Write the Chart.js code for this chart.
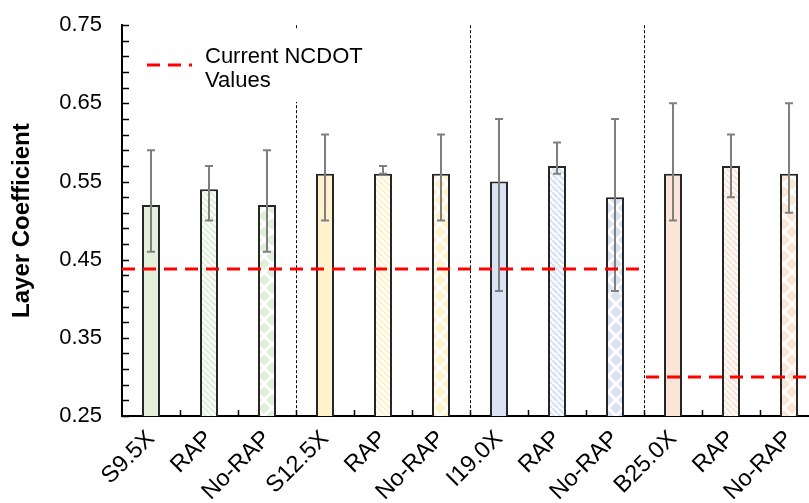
<!DOCTYPE html>
<html>
<head>
<meta charset="utf-8">
<script src="https://cdn.jsdelivr.net/npm/chart.js@4.4.1/dist/chart.umd.min.js"></script>
<style>
  html, body { margin: 0; padding: 0; background: #fff; overflow: hidden; }
  #wrap { width: 830px; height: 503px; }
</style>
</head>
<body>
<div id="wrap"><canvas id="theChart"></canvas></div>
<script>
// chart data
const categories = ["S9.5X", "RAP", "No-RAP", "S12.5X", "RAP", "No-RAP", "I19.0X", "RAP", "No-RAP", "B25.0X", "RAP", "No-RAP"];
const coefficients = [0.52, 0.54, 0.52, 0.56, 0.56, 0.56, 0.55, 0.57, 0.53, 0.56, 0.57, 0.56];
const errorLow = [0.46, 0.50, 0.46, 0.50, 0.56, 0.50, 0.41, 0.56, 0.41, 0.50, 0.53, 0.51];
const errorHigh = [0.59, 0.57, 0.59, 0.61, 0.57, 0.61, 0.63, 0.60, 0.63, 0.65, 0.61, 0.65];
const ncdotValues = [0.438, 0.30]; // surface/intermediate mixes, base mix
const yTickValues = [0.25, 0.35, 0.45, 0.55, 0.65, 0.75];

const groupColors = ["#E2EFDA", "#FFF2CC", "#DAE3F3", "#FBE5D6"];

Chart.defaults.font.family = "'Liberation Sans', Arial, sans-serif";
Chart.defaults.color = "#000";

function makeStripes(color) {
    const c = document.createElement("canvas");
    c.width = 6; c.height = 6;
    const g = c.getContext("2d");
    g.fillStyle = "#fff";
    g.fillRect(0, 0, 6, 6);
    g.strokeStyle = color;
    g.lineWidth = 2.6;
    for (let k = -6; k <= 6; k += 6) {
        g.beginPath();
        g.moveTo(k, 0);
        g.lineTo(k + 6, 6);
        g.stroke();
    }
    return g.createPattern(c, "repeat");
}

function makeDiamonds(color) {
    const c = document.createElement("canvas");
    c.width = 16; c.height = 16;
    const g = c.getContext("2d");
    g.fillStyle = "#fff";
    g.fillRect(0, 0, 16, 16);
    g.fillStyle = color;
    const centers = [[8, 8], [0, 0], [16, 0], [0, 16], [16, 16]];
    centers.forEach(([x, y]) => {
        g.beginPath();
        g.moveTo(x, y - 6);
        g.lineTo(x + 6, y);
        g.lineTo(x, y + 6);
        g.lineTo(x - 6, y);
        g.closePath();
        g.fill();
    });
    return g.createPattern(c, "repeat");
}

const barFills = categories.map((c, i) => {
    const color = groupColors[Math.floor(i / 3)];
    if (i % 3 === 0) return color;
    if (i % 3 === 1) return makeStripes(color);
    return makeDiamonds(color);
});

// extras: inner ticks, error bars, dividers, reference lines, legend
const extrasPlugin = {
    id: "extras",
    afterDatasetsDraw(chart) {
        const ctx = chart.ctx;
        const area = chart.chartArea;
        const x = chart.scales.x;
        const y = chart.scales.y;
        const step = x.getPixelForValue(1) - x.getPixelForValue(0);

        ctx.save();
        // error bars
        ctx.strokeStyle = "#7F7F7F";
        ctx.lineWidth = 2;
        for (let i = 0; i < categories.length; i++) {
            const cx = x.getPixelForValue(i);
            const lo = y.getPixelForValue(errorLow[i]);
            const hi = y.getPixelForValue(errorHigh[i]);
            ctx.beginPath();
            ctx.moveTo(cx, lo); ctx.lineTo(cx, hi);
            ctx.moveTo(cx - 4, lo); ctx.lineTo(cx + 4, lo);
            ctx.moveTo(cx - 4, hi); ctx.lineTo(cx + 4, hi);
            ctx.stroke();
        }

        // group dividers
        ctx.strokeStyle = "#000";
        ctx.lineWidth = 1;
        ctx.setLineDash([3, 2]);
        [2, 5, 8].forEach((i) => {
            const bx = Math.round(x.getPixelForValue(i) + step / 2) + 0.5;
            ctx.beginPath();
            ctx.moveTo(bx, area.top);
            ctx.lineTo(bx, area.bottom);
            ctx.stroke();
        });
        ctx.setLineDash([]);

        // inner tick marks
        ctx.strokeStyle = "#000";
        ctx.lineWidth = 1.5;
        for (let v = 0.25; v <= 0.7501; v += 0.02) {
            const py = Math.round(y.getPixelForValue(v)) + 0.5;
            ctx.beginPath();
            ctx.moveTo(area.left, py);
            ctx.lineTo(area.left + 7, py);
            ctx.stroke();
        }
        for (let i = 0; i < categories.length - 1; i++) {
            const px = Math.round(x.getPixelForValue(i) + step / 2) + 0.5;
            ctx.beginPath();
            ctx.moveTo(px, area.bottom);
            ctx.lineTo(px, area.bottom - 6);
            ctx.stroke();
        }

        // NCDOT reference lines
        ctx.strokeStyle = "#FF0000";
        ctx.lineWidth = 3;
        ctx.setLineDash([13, 8]);
        const split = x.getPixelForValue(8) + step / 2;
        let ry = y.getPixelForValue(ncdotValues[0]);
        ctx.beginPath();
        ctx.moveTo(area.left, ry);
        ctx.lineTo(split - 2, ry);
        ctx.stroke();
        ry = y.getPixelForValue(ncdotValues[1]);
        ctx.beginPath();
        ctx.moveTo(split + 2, ry);
        ctx.lineTo(area.right, ry);
        ctx.stroke();

        // legend
        ctx.setLineDash([]);
        ctx.fillStyle = "#fff";
        ctx.fillRect(135, 30, 235, 72);
        ctx.strokeStyle = "#FF0000";
        ctx.setLineDash([13, 8]);
        ctx.beginPath();
        ctx.moveTo(147, 65);
        ctx.lineTo(192, 65);
        ctx.stroke();
        ctx.setLineDash([]);
        ctx.fillStyle = "#000";
        ctx.font = "22px 'Liberation Sans', Arial, sans-serif";
        ctx.textBaseline = "alphabetic";
        ctx.fillText("Current NCDOT", 205, 63);
        ctx.fillText("Values", 205, 87);
        ctx.restore();
    }
};

const ctx = document.getElementById("theChart");
new Chart(ctx, {
    type: "bar",
    data: {
        labels: categories,
        datasets: [{
            label: "Layer Coefficient",
            data: coefficients,
            backgroundColor: barFills,
            borderColor: "#262626",
            borderWidth: 2,
            barPercentage: 0.31,
            categoryPercentage: 1,
        }],
    },
    options: {
        animation: false,
        responsive: true,
        maintainAspectRatio: false,
        layout: {
            padding: { top: 8, right: 12, left: 0, bottom: 0 },
        },
        plugins: {
            legend: { display: false },
            tooltip: { enabled: false },
        },
        scales: {
            x: {
                grid: { display: false },
                border: { display: true, color: "#000", width: 2 },
                ticks: {
                    color: "#000",
                    font: { size: 23.5 },
                    minRotation: 45,
                    maxRotation: 45,
                    padding: 1,
                },
                afterFit: (scale) => { scale.height = 87; },
            },
            y: {
                min: 0.25,
                max: 0.75,
                grid: { display: false },
                border: { display: true, color: "#000", width: 2 },
                ticks: {
                    color: "#000",
                    font: { size: 22 },
                    padding: 12,
                    callback: (v) => Number(v).toFixed(2),
                },
                afterBuildTicks: (scale) => {
                    scale.ticks = yTickValues.map((v) => ({ value: v }));
                },
                title: {
                    display: true,
                    text: "Layer Coefficient",
                    color: "#000",
                    font: { size: 24, weight: "bold" },
                    padding: { top: 8, bottom: 0 },
                },
                afterFit: (scale) => { scale.width = 122; },
            },
        },
    },
    plugins: [extrasPlugin],
});
</script>
</body>
</html>
